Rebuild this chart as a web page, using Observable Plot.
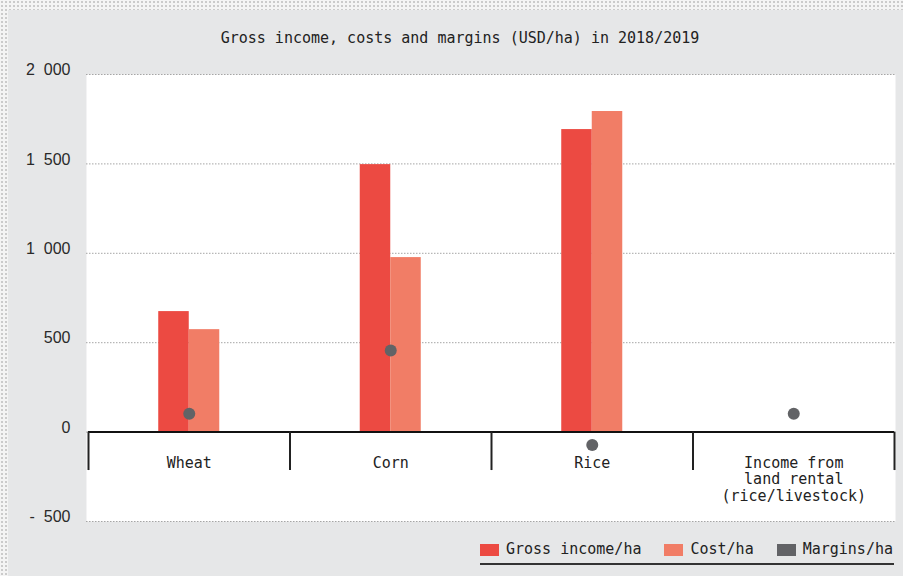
<!DOCTYPE html>
<html>
<head>
<meta charset="utf-8">
<script src="https://cdn.jsdelivr.net/npm/d3@7"></script>
<script src="https://cdn.jsdelivr.net/npm/@observablehq/plot@0.6"></script>
<style>
  html, body { margin: 0; padding: 0; }
  body {
    width: 903px; height: 576px; position: relative; overflow: hidden;
    background-color: #f4f4f4;
    background-image: radial-gradient(#c9c9c9 0.7px, transparent 0.9px);
    background-size: 4px 4px;
  }
  #panel { position: absolute; left: 8px; top: 10px; width: 895px; height: 566px; background: #e6e7e8; }
  #title {
    position: absolute; left: 0; top: 31px; width: 920px; text-align: center;
    font-family: "DejaVu Sans Mono", monospace; font-size: 15px; line-height: 15px; color: #222;
  }
  #chart { position: absolute; left: 0; top: 56px; }
  #legend {
    position: absolute; left: 480px; top: 542px; width: 414px; height: 21px;
    border-bottom: 2px solid #333; display: flex; align-items: flex-start;
    font-family: "DejaVu Sans Mono", monospace; font-size: 15px; line-height: 15px; color: #222;
  }
  .item { display: flex; align-items: center; margin-right: 23px; white-space: nowrap; }
  .item:last-child { margin-right: 0; }
  .sw { width: 19px; height: 12px; margin-right: 7px; }
</style>
</head>
<body>
<div id="panel"></div>
<div id="title">Gross income, costs and margins (USD/ha) in 2018/2019</div>
<div id="chart"></div>
<div id="legend"></div>
<script>
// ---- data ----
const categories = ["Wheat", "Corn", "Rice", "Income from\nland rental\n(rice/livestock)"];
const grossIncome = [674, 1496, 1692, null];
const costs = [573, 976, 1793, null];
const margins = [103, 457, -72, 102];
const yTicks = [-500, 0, 500, 1000, 1500, 2000];
const yTickLabels = ["-\u00a0\u00a0500", "0", "500", "1\u00a0\u00a0000", "1\u00a0\u00a0500", "2\u00a0\u00a0000"];
const seriesNames = ["Gross income/ha", "Cost/ha", "Margins/ha"];
const seriesColors = ["#ec4a42", "#f17d66", "#626366"];

// ---- table built from arrays ----
const table = categories.map((c, i) => ({i, category: c, gross: grossIncome[i], cost: costs[i], margin: margins[i]}));
const bounds = categories.map((_, i) => i - 0.5).concat([categories.length - 0.5]);
const yLabels = yTicks.map((v, k) => ({v, label: yTickLabels[k]}));
const barW = 0.1514;
const mono = "DejaVu Sans Mono, monospace";

const chart = Plot.plot({
  width: 903,
  height: 474,
  marginLeft: 86,
  marginRight: 8,
  marginTop: 18,
  marginBottom: 9,
  style: {background: "transparent", overflow: "visible"},
  x: {domain: [-0.5, categories.length - 0.5], insetLeft: 2, insetRight: 1, axis: null},
  y: {domain: [-500, 2000], axis: null},
  marks: [
    Plot.frame({fill: "white", stroke: "none"}),
    Plot.ruleY(yTicks, {stroke: "#a5a5a5", strokeWidth: 1, strokeDasharray: "1.5,1.5"}),
    Plot.text(yLabels, {y: "v", text: "label", frameAnchor: "left", textAnchor: "end", dx: -16, dy: -4.5,
      fontSize: 16, fontFamily: "Liberation Sans, Arial, sans-serif", fill: "#2a2a2a"}),
    Plot.rectY(table.filter(d => d.gross != null), {x1: d => d.i - barW, x2: d => d.i, y: "gross", fill: seriesColors[0]}),
    Plot.rectY(table.filter(d => d.cost != null), {x1: d => d.i, x2: d => d.i + barW, y: "cost", fill: seriesColors[1]}),
    Plot.ruleY([0], {x1: -0.5, x2: categories.length - 0.5, stroke: "#111", strokeWidth: 2}),
    Plot.ruleX(bounds, {y1: 0, y2: -215, stroke: "#222", strokeWidth: 2}),
    Plot.dot(table, {x: "i", y: "margin", r: 6, fill: seriesColors[2], stroke: "none"}),
    Plot.text(table, {x: "i", y: 0, text: "category", lineAnchor: "top", dy: 24, lineHeight: 1.1,
      fontSize: 15, fontFamily: mono, fill: "#222"})
  ]
});
document.getElementById("chart").appendChild(chart);

// ---- legend ----
const legend = document.getElementById("legend");
seriesNames.forEach((name, k) => {
  const item = document.createElement("div");
  item.className = "item";
  const sw = document.createElement("div");
  sw.className = "sw";
  sw.style.background = seriesColors[k];
  const t = document.createElement("span");
  t.textContent = name;
  item.appendChild(sw);
  item.appendChild(t);
  legend.appendChild(item);
});
</script>
</body>
</html>
